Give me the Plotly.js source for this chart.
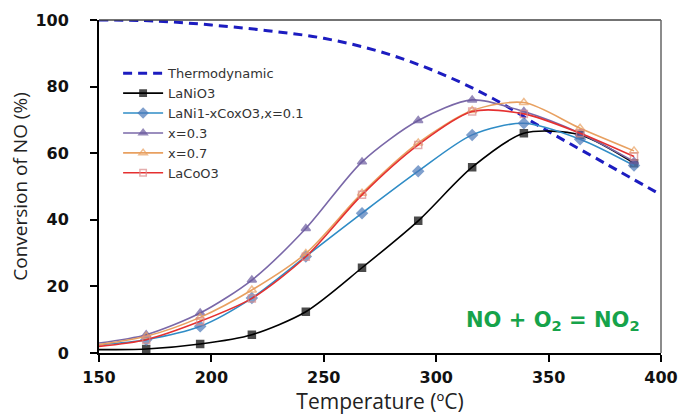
<!DOCTYPE html>
<html><head><meta charset="utf-8">
<script src="https://cdn.plot.ly/plotly-3.0.1.min.js"></script>
<style>html,body{margin:0;padding:0;background:#fff;}#chart{width:678px;height:416px;}</style>
</head><body><div id="chart"></div>
<script>
const thermoT = [150, 175, 200, 225, 250, 275, 300, 325, 350, 375, 400];
const thermoY = [100, 99.7, 98.5, 96.8, 94.5, 90.5, 84.5, 76.5, 66.5, 57, 47.5];
const temps = [150, 171, 195, 218, 242, 267, 292, 316, 339, 364, 388];
const laNiO3 = [1.0, 1.2, 2.7, 5.5, 12.4, 25.6, 39.7, 55.8, 66.0, 65.5, 57.0];
const x01 = [2.5, 4.0, 8.0, 16.5, 29.0, 42.0, 54.6, 65.5, 69.0, 64.2, 56.3];
const x03 = [3.0, 5.5, 12.0, 21.9, 37.4, 57.4, 69.8, 76.0, 72.5, 66.0, 57.5];
const x07 = [2.5, 5.0, 10.7, 18.9, 29.9, 48.0, 63.1, 72.8, 75.2, 67.5, 60.7];
const laCoO3 = [2.0, 4.0, 9.5, 16.4, 28.9, 47.5, 62.5, 72.5, 71.8, 66.0, 59.0];
const names = ["Thermodynamic", "LaNiO3", "LaNi1-xCoxO3,x=0.1", "x=0.3", "x=0.7", "LaCoO3"];

const msize = (s) => temps.map((t, i) => i === 0 ? 0 : s);
function series(y, name, lineColor, sym, mColor, mLine, s) {
  return {x: temps, y: y, name: name, type: 'scatter', mode: 'lines+markers',
    line: {color: lineColor, width: 1.6, shape: 'spline', smoothing: 0.8},
    marker: {symbol: sym, size: msize(s), color: mColor, line: {color: mLine, width: 1.5}}};
}
const data = [
  {x: thermoT, y: thermoY, name: names[0], type: 'scatter', mode: 'lines',
   line: {color: '#1c1cc0', width: 3, dash: '9px,6px', shape: 'spline'}},
  series(laNiO3, names[1], '#000000', 'square', '#000000', '#000000', 7),
  series(x01, names[2], '#2f8cc6', 'diamond', '#4a78b8', '#4a78b8', 8),
  series(x03, names[3], '#7a68a8', 'triangle-up', '#6a5a9e', '#6a5a9e', 8),
  series(x07, names[4], '#e8a060', 'triangle-up-open', '#e8a060', '#e89050', 8),
  series(laCoO3, names[5], '#e53030', 'square-open', '#d98a8a', '#d98a8a', 7)
];
const tickFont = {family: 'DejaVu Sans, Verdana, sans-serif', size: 16, color: '#111', weight: 'bold'};
const layout = {
  width: 678, height: 416,
  margin: {l: 99, r: 17, t: 20, b: 63},
  paper_bgcolor: '#fff', plot_bgcolor: '#fff',
  showlegend: true,
  legend: {x: 0.034, y: 0.885, xanchor: 'left', yanchor: 'top', bgcolor: 'rgba(0,0,0,0)',
    font: {family: 'DejaVu Sans, Verdana, sans-serif', size: 13, color: '#333'},
    tracegroupgap: 0, itemwidth: 40},
  xaxis: {range: [150, 400], dtick: 50, tick0: 150, showgrid: false, zeroline: false,
    showline: true, linecolor: '#000', linewidth: 2, ticks: 'outside', ticklen: 7, tickwidth: 2, tickcolor: '#000',
    tickfont: tickFont, ticklabelstandoff: 2, ticklabeloverflow: 'allow',
    title: {text: 'Temperature (ºC)', font: {family: 'Open Sans, Noto Sans, sans-serif', size: 21, color: '#222'}, standoff: 8}},
  yaxis: {range: [0, 100], dtick: 20, showgrid: false, zeroline: false,
    showline: true, linecolor: '#000', linewidth: 2, ticks: 'outside', ticklen: 7, tickwidth: 2, tickcolor: '#000',
    tickfont: tickFont, ticklabelstandoff: 18, ticklabeloverflow: 'allow',
    title: {text: 'Conversion of NO (%)', font: {family: 'Open Sans, Noto Sans, sans-serif', size: 19, color: '#222'}, standoff: 3}},
  shapes: [
    {type: 'line', xref: 'paper', yref: 'paper', x0: 0, x1: 1, y0: 1, y1: 1, line: {color: '#444', width: 1.5}},
    {type: 'line', xref: 'paper', yref: 'paper', x0: 1, x1: 1, y0: 0, y1: 1, line: {color: '#666', width: 1.5}}
  ],
  annotations: [
    {xref: 'x', yref: 'y', x: 352, y: 9.5, text: '<b>NO + O<sub>2</sub> = NO<sub>2</sub></b>', showarrow: false,
     font: {family: 'DejaVu Sans, Verdana, sans-serif', size: 21, color: '#16a34a'}}
  ]
};
Plotly.newPlot('chart', data, layout, {displayModeBar: false, staticPlot: true});
</script></body></html>
